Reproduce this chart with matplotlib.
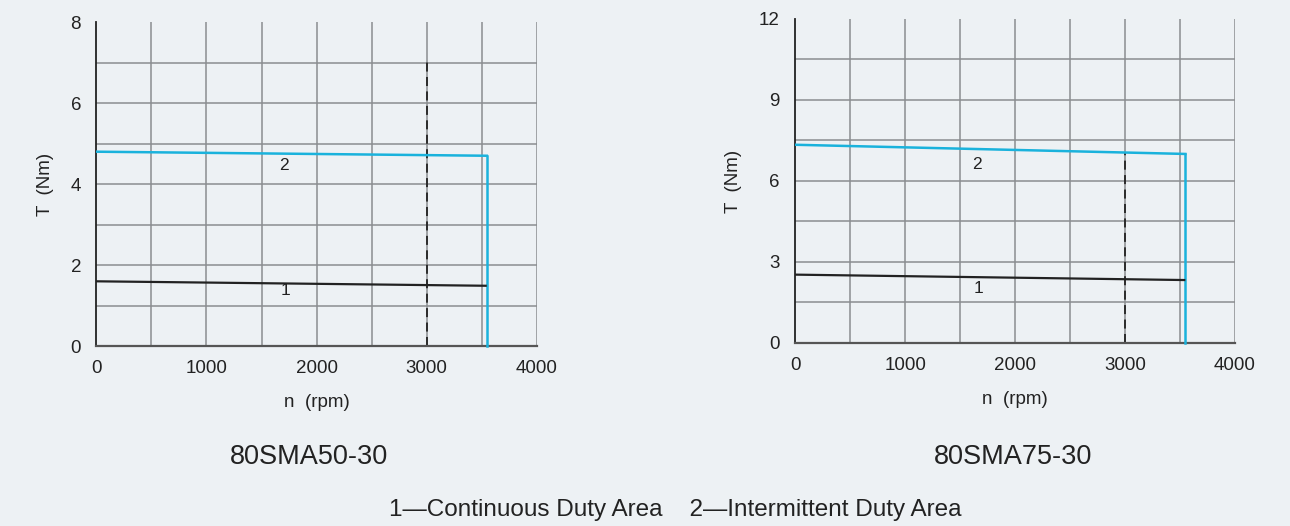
import matplotlib.pyplot as plt
import numpy as np

plt.rcParams['font.family'] = ['Liberation Sans', 'DejaVu Sans']

bg = '#edf1f4'
cyan = '#1ab2dc'

# 80SMA50-30
speed_a = [0, 3546]
cont_a = [1.60, 1.49]
inter_a = [4.80, 4.70]

# 80SMA75-30
speed_b = [0, 3548]
cont_b = [2.53, 2.33]
inter_b = [7.34, 7.00]

titles = ['80SMA50-30', '80SMA75-30']
rated_speed = 3000

fig = plt.figure(figsize=(12.9, 5.26), dpi=100, facecolor=bg)
ax1 = fig.add_axes([0.0747, 0.342, 0.3414, 0.616])
ax2 = fig.add_axes([0.6164, 0.348, 0.341, 0.616])


def draw(ax, speed, cont, inter, ymax, ystep, dash_top, lbl2, lbl1):
    ax.set_facecolor(bg)
    ax.set_xlim(0, 4000)
    ax.set_ylim(0, ymax)
    for x in np.arange(500, 4001, 500):
        ax.axvline(x, color='#8a8d90', lw=1.1, zorder=1)
    for y in np.arange(ystep / 2, ymax, ystep / 2):
        ax.axhline(y, color='#8a8d90', lw=1.1, zorder=1)
    for s in ['top', 'right']:
        ax.spines[s].set_visible(False)
    ax.spines['left'].set_color('#222222')
    ax.spines['bottom'].set_color('#555555')
    ax.spines['left'].set_linewidth(1.3)
    ax.spines['bottom'].set_linewidth(1.6)
    ax.set_xticks([0, 1000, 2000, 3000, 4000])
    ax.set_yticks(np.arange(0, ymax + 0.1, ystep))
    ax.tick_params(length=0, labelsize=13.5, pad=10, colors='#222222')
    ax.tick_params(axis='y', pad=11)
    # duty curves
    end = speed[-1]
    ax.plot(speed, inter, color=cyan, lw=1.8, zorder=3)
    ax.plot([end, end], [inter[-1], 0], color=cyan, lw=1.8, zorder=3, clip_on=False)
    ax.plot([speed[0], end - 10], cont, color='#222222', lw=1.6, zorder=3)
    ax.plot([rated_speed, rated_speed], [0, dash_top], color='#222222', lw=1.3,
            ls=(0, (5, 3)), zorder=2)
    ax.text(lbl2[0], lbl2[1], '2', fontsize=12.5, ha='center', va='center', color='#222222')
    ax.text(lbl1[0], lbl1[1], '1', fontsize=12.5, ha='center', va='center', color='#222222')
    ax.set_xlabel('n  (rpm)', fontsize=13.5, labelpad=12, color='#222222')
    ax.set_ylabel('T  (Nm)', fontsize=13.5, labelpad=12, color='#222222')


draw(ax1, speed_a, cont_a, inter_a, 8, 2, 7.05, (1700, 4.45), (1720, 1.38))
draw(ax2, speed_b, cont_b, inter_b, 12, 3, 7.05, (1657, 6.62), (1667, 2.0))

fig.text(309 / 1290, 0.131, titles[0], fontsize=19.5, ha='center', va='center', color='#222222')
fig.text(1013 / 1290, 0.131, titles[1], fontsize=19.5, ha='center', va='center', color='#222222')
fig.text(675 / 1290, 0.03, '1\u2014Continuous Duty Area    2\u2014Intermittent Duty Area',
         fontsize=17.5, ha='center', va='center', color='#222222')

fig.savefig('out.png', dpi=100, facecolor=bg)
